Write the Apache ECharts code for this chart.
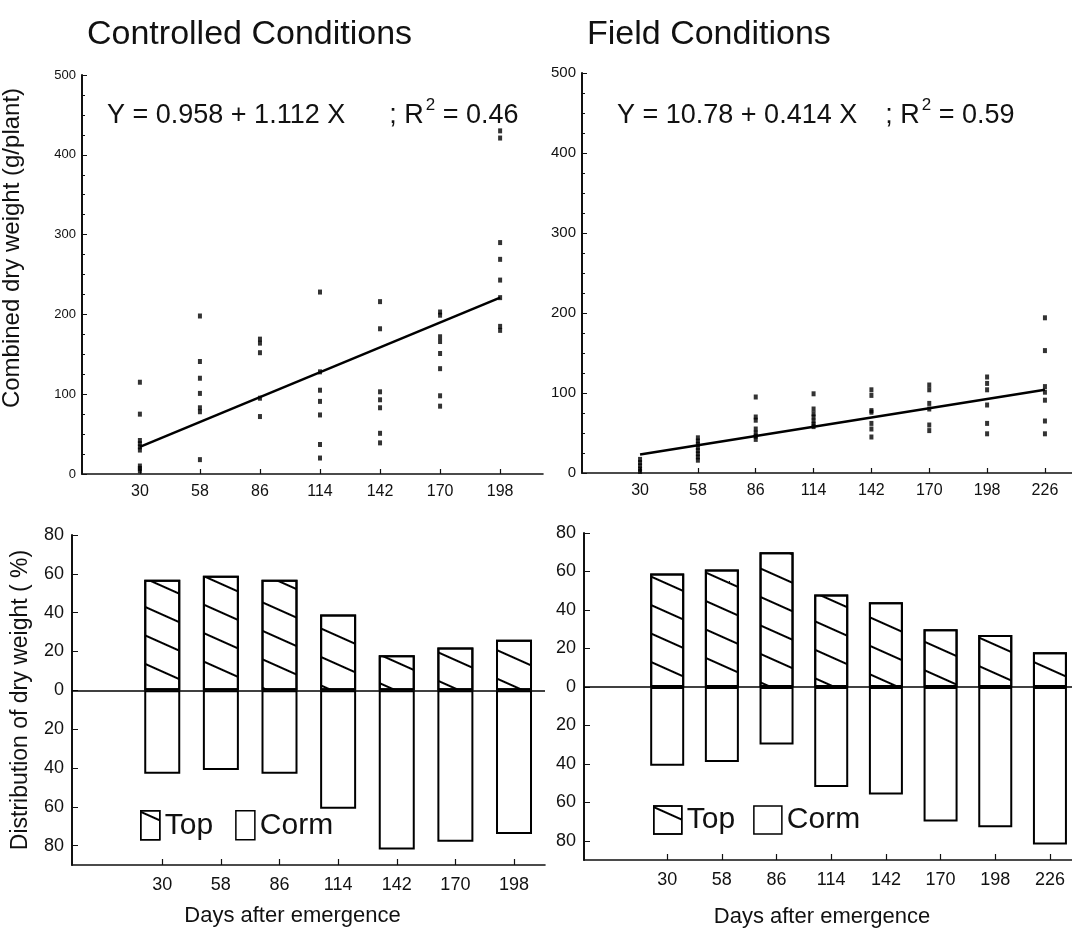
<!DOCTYPE html>
<html>
<head>
<meta charset="utf-8">
<script src="https://cdn.jsdelivr.net/npm/echarts@6/dist/echarts.min.js"></script>
<style>html,body{margin:0;padding:0;background:#fff;}#c{width:1072px;height:930px;}</style>
</head>
<body>
<div id="c"></div>
<script>
// ---------- DATA ----------
const daysCtrl = [30, 58, 86, 114, 142, 170, 198];
const daysField = [30, 58, 86, 114, 142, 170, 198, 226];

// Combined dry weight (g/plant), individual plants per sampling day
const ctrlWeights = [
  [115, 75, 42, 38, 34, 30, 10, 7, 4],
  [198, 141, 120, 101, 83, 78, 18],
  [169, 164, 152, 95, 72],
  [228, 128, 105, 91, 74, 37, 20],
  [216, 182, 103, 93, 83, 51, 39],
  [203, 199, 172, 166, 151, 132, 98, 85],
  [430, 421, 290, 269, 243, 221, 185, 180]
];
const fieldWeights = [
  [17, 13, 9, 5, 2],
  [44, 40, 36, 32, 28, 24, 20, 16],
  [95, 70, 66, 55, 50, 46, 42],
  [99, 80, 74, 70, 65, 61, 58],
  [104, 97, 78, 76, 62, 55, 45],
  [110, 104, 87, 80, 60, 53],
  [120, 112, 104, 85, 62, 49],
  [194, 153, 108, 101, 91, 65, 49]
];
// regression line end points
const ctrlFit = [[30, 34], [198, 221]];
const fieldFit = [[30, 23], [226, 104]];

// Distribution of dry weight (%)
const ctrlTop = [57, 59, 57, 39, 18, 22, 26];
const ctrlCorm = [43, 41, 43, 61, 82, 78, 74];
const fieldTop = [59, 61, 70, 48, 44, 30, 27, 18];
const fieldCorm = [41, 39, 30, 52, 56, 70, 73, 82];

const pctTicks = [-80, -60, -40, -20, 0, 20, 40, 60, 80];

// ---------- BUILD ----------
const FONT = 'Liberation Sans, Arial, Helvetica, sans-serif';
const INK = '#111';

function toPoints(days, weights) {
  const out = [];
  days.forEach((d, i) => weights[i].forEach(w => out.push([d, w])));
  return out;
}
function toBars(days, vals, sign) {
  return days.map((d, i) => [d, sign * vals[i]]);
}

const hatch = {
  symbol: 'rect',
  symbolSize: 1,
  dashArrayX: [1, 0],
  dashArrayY: [1.3, 24],
  rotation: 0.42,
  color: '#000'
};

function scatterXAxis(gi, min, max, days) {
  return {
    gridIndex: gi, type: 'value', min: min, max: max,
    axisLine: { onZero: false, lineStyle: { color: INK, width: 1.6 } },
    axisTick: { inside: true, length: 5, customValues: days, lineStyle: { color: INK, width: 1.2 } },
    axisLabel: { customValues: days, color: INK, fontFamily: FONT, fontSize: 16, margin: 10 },
    splitLine: { show: false }
  };
}
function scatterYAxis(gi, fs) {
  return {
    gridIndex: gi, type: 'value', min: 0, max: 500, interval: 100,
    axisLine: { show: true, onZero: false, lineStyle: { color: INK, width: 2 } },
    axisTick: { show: true, inside: true, length: 5, lineStyle: { color: INK } },
    minorTick: { show: true, splitNumber: 4, length: 3, lineStyle: { color: INK } },
    axisLabel: { color: INK, fontFamily: FONT, fontSize: fs, margin: 6 },
    splitLine: { show: false }
  };
}
function barXAxis(gi, min, max, days, shift, gap) {
  return {
    gridIndex: gi, type: 'value', min: min, max: max,
    name: 'Days after emergence', nameLocation: 'middle', nameGap: gap,
    nameTextStyle: { color: INK, fontFamily: FONT, fontSize: 22, padding: [0, shift, 0, 0] },
    axisLine: { onZero: false, lineStyle: { color: INK, width: 1.6 } },
    axisTick: { inside: true, length: 6, customValues: days, lineStyle: { color: INK, width: 1.2 } },
    axisLabel: { customValues: days, color: INK, fontFamily: FONT, fontSize: 18, margin: 11 },
    splitLine: { show: false }
  };
}
function barYAxis(gi, name) {
  return {
    gridIndex: gi, type: 'value', min: -90, max: 80,
    name: name, nameLocation: 'middle', nameGap: 40,
    nameTextStyle: { color: INK, fontFamily: FONT, fontSize: 23 },
    axisLine: { show: true, onZero: false, lineStyle: { color: INK, width: 2 } },
    axisTick: { show: true, inside: true, length: 6, customValues: pctTicks, lineStyle: { color: INK } },
    axisLabel: { customValues: pctTicks, color: INK, fontFamily: FONT, fontSize: 18, margin: 8,
      formatter: v => String(Math.abs(v)) },
    splitLine: { show: false }
  };
}
function barSeries(xi, days, top, corm, w) {
  return [
    {
      name: 'Top', type: 'bar', xAxisIndex: xi, yAxisIndex: xi, barWidth: w, barGap: '-100%',
      data: toBars(days, top, 1),
      itemStyle: { color: '#fff', borderColor: '#000', borderWidth: 2, decal: hatch },
      markLine: {
        silent: true, symbol: ['none', 'none'], label: { show: false },
        lineStyle: { color: '#000', width: 1.6, type: 'solid' },
        data: [{ yAxis: 0 }]
      },
      z: 3
    },
    {
      name: 'Corm', type: 'bar', xAxisIndex: xi, yAxisIndex: xi, barWidth: w, barGap: '-100%',
      data: toBars(days, corm, -1),
      itemStyle: { color: '#fff', borderColor: '#000', borderWidth: 2 },
      z: 3
    }
  ];
}
function eqTitle(left, top, a, gap, r) {
  return {
    left: left, top: top,
    text: '{t|' + a + '}{g|}{t|; R}{s|2}{t| = ' + r + '}',
    textStyle: {
      fontWeight: 'normal',
      rich: {
        t: { fontFamily: FONT, fontSize: 27, fontWeight: 'normal', color: INK, lineHeight: 32, verticalAlign: 'bottom' },
        g: { width: gap, lineHeight: 32 },
        s: { fontFamily: FONT, fontSize: 17, fontWeight: 'normal', color: INK, lineHeight: 32, verticalAlign: 'top', padding: [0, 0, 0, 2] }
      }
    }
  };
}
function grid(l, t, w, h) {
  return { left: l, top: t, width: w, height: h, containLabel: false, outerBoundsMode: 'none' };
}

const option = {
  animation: false,
  backgroundColor: '#fff',
  title: [
    { text: 'Controlled Conditions', left: 82, top: 13,
      textStyle: { fontFamily: FONT, fontSize: 34, fontWeight: 'normal', color: INK } },
    { text: 'Field Conditions', left: 582, top: 13,
      textStyle: { fontFamily: FONT, fontSize: 34, fontWeight: 'normal', color: INK } },
    eqTitle(102, 92, 'Y = 0.958 + 1.112 X', 44, '0.46'),
    eqTitle(612, 92, 'Y = 10.78 + 0.414 X', 28, '0.59')
  ],
  graphic: [
    { type: 'text', x: 12, y: 248, rotation: Math.PI / 2, origin: [0, 0],
      style: { text: 'Combined dry weight (g/plant)', fontFamily: FONT, fontSize: 24, fill: INK,
        textAlign: 'center', textVerticalAlign: 'middle' } }
  ],
  legend: [
    { left: 135, top: 805, icon: 'rect', itemWidth: 19, itemHeight: 29, itemGap: 22, selectedMode: false,
      data: ['Top', 'Corm'], textStyle: { fontFamily: FONT, fontSize: 30, color: INK, padding: [0, 0, 0, 0] },
      itemStyle: { borderColor: '#000', borderWidth: 1.5 } },
    { left: 648, top: 800, icon: 'rect', itemWidth: 28, itemHeight: 28, itemGap: 18, selectedMode: false,
      data: ['Top', 'Corm'], textStyle: { fontFamily: FONT, fontSize: 30, color: INK, padding: [0, 0, 0, 0] },
      itemStyle: { borderColor: '#000', borderWidth: 1.5 } }
  ],
  grid: [
    grid(82, 75, 461, 399),
    grid(582, 73, 490, 400),
    grid(72, 535, 473, 330),
    grid(584, 533, 488, 327)
  ],
  xAxis: [
    scatterXAxis(0, 3, 218, daysCtrl),
    scatterXAxis(1, 1.9, 239.1, daysField),
    barXAxis(2, -13.1, 212.8, daysCtrl, 32, 40),
    barXAxis(3, -12.6, 237.3, daysField, 12, 46)
  ],
  yAxis: [
    scatterYAxis(0, 13),
    scatterYAxis(1, 15),
    barYAxis(2, 'Distribution of dry weight ( %)'),
    barYAxis(3, '')
  ],
  series: [
    { type: 'scatter', xAxisIndex: 0, yAxisIndex: 0, symbol: 'rect', symbolSize: [4, 5],
      itemStyle: { color: '#000' }, data: toPoints(daysCtrl, ctrlWeights) },
    { type: 'line', xAxisIndex: 0, yAxisIndex: 0, showSymbol: false, symbol: 'none',
      lineStyle: { color: '#000', width: 2.5 }, data: ctrlFit },
    { type: 'scatter', xAxisIndex: 1, yAxisIndex: 1, symbol: 'rect', symbolSize: [4, 5],
      itemStyle: { color: '#000' }, data: toPoints(daysField, fieldWeights) },
    { type: 'line', xAxisIndex: 1, yAxisIndex: 1, showSymbol: false, symbol: 'none',
      lineStyle: { color: '#000', width: 2.5 }, data: fieldFit },
    ...barSeries(2, daysCtrl, ctrlTop, ctrlCorm, 36),
    ...barSeries(3, daysField, fieldTop, fieldCorm, 34)
  ]
};

const chart = echarts.init(document.getElementById('c'), null, { renderer: 'canvas' });
chart.setOption(option);
</script>
</body>
</html>
